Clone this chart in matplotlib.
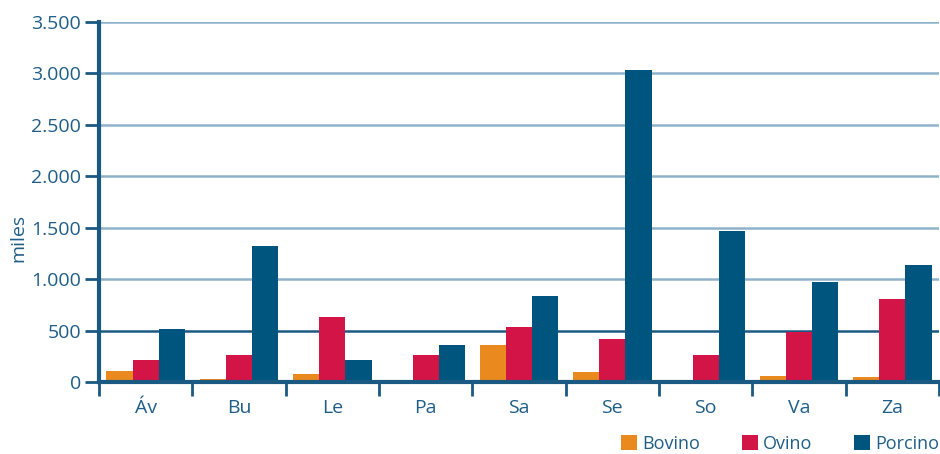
import numpy as np
import matplotlib.pyplot as plt
from matplotlib.ticker import FuncFormatter, FixedLocator

# --- Data (miles de cabezas por provincia) ---
provincias = ["Áv", "Bu", "Le", "Pa", "Sa", "Se", "So", "Va", "Za"]
bovino = [110, 30, 80, 20, 355, 100, 0, 60, 50]
ovino = [210, 260, 630, 260, 530, 420, 265, 485, 805]
porcino = [520, 1320, 210, 355, 835, 3035, 1465, 970, 1135]

c_bov = "#EA8A1E"
c_ovi = "#D31447"
c_por = "#00557F"
txt = "#1F5E87"
axis_col = "#1A5A82"
grid_col = "#8DB2CA"

plt.rcParams["font.family"] = ["Open Sans", "DejaVu Sans"]

fig = plt.figure(figsize=(9.4, 4.54), dpi=100)
ax = fig.add_axes([99 / 940, 72 / 454, 840 / 940, 360 / 454])

x = np.arange(len(provincias)) + 0.5
w = 0.28
ax.bar(x - w, bovino, w, color=c_bov, label="Bovino", zorder=3)
ax.bar(x, ovino, w, color=c_ovi, label="Ovino", zorder=3)
ax.bar(x + w, porcino, w, color=c_por, label="Porcino", zorder=3)

ax.set_xlim(0, len(provincias))
ax.set_ylim(0, 3500)

# gridlines
for v in range(500, 3501, 500):
    col = axis_col if v == 500 else grid_col
    ax.axhline(v, color=col, lw=1.8, zorder=1)

ax.set_yticks(range(0, 3501, 500))
ax.yaxis.set_major_formatter(FuncFormatter(lambda v, p: f"{int(v):,}".replace(",", ".")))
ax.tick_params(axis="y", length=10, width=2, color=axis_col, labelcolor=txt,
               labelsize=14, pad=3)

ax.set_xticks(x)
ax.set_xticklabels(provincias)
ax.xaxis.set_minor_locator(FixedLocator(np.arange(0, len(provincias) + 1)))
ax.tick_params(axis="x", which="major", length=0, labelcolor=txt, labelsize=14, pad=12)
ax.tick_params(axis="x", which="minor", length=10, width=2, color=axis_col)

for s in ["top", "right"]:
    ax.spines[s].set_visible(False)
for s in ["left", "bottom"]:
    ax.spines[s].set_color(axis_col)
    ax.spines[s].set_linewidth(3)
    ax.spines[s].set_zorder(4)

ax.set_ylabel("miles", color=txt, fontsize=14)
ax.yaxis.set_label_coords(-0.085, 0.40)

ax.legend(loc="center right", bbox_to_anchor=(1.0, -0.172), ncol=3, frameon=False,
          fontsize=13, labelcolor=txt, handlelength=0.89, handleheight=0.89,
          handletextpad=0.28, columnspacing=2.3, borderaxespad=0, borderpad=0)

fig.savefig("out.png", dpi=100)
